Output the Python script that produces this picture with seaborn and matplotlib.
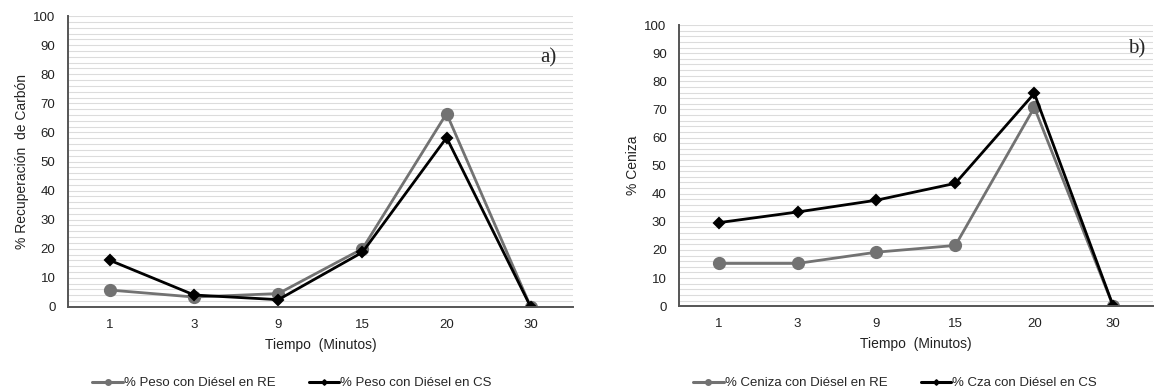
import matplotlib
matplotlib.use("Agg")
import matplotlib.pyplot as plt
import seaborn as sns
import pandas as pd
from matplotlib.lines import Line2D

# ---- data ----
tiempos = ["1", "3", "9", "15", "20", "30"]
peso_re = [5.8, 3.4, 4.6, 20.0, 66.5, 0.0]
peso_cs = [16.0, 4.1, 2.5, 18.8, 58.2, 0.0]
ceniza_re = [15.2, 15.2, 19.2, 21.6, 70.7, 0.0]
cza_cs = [29.7, 33.5, 37.7, 43.7, 75.7, 0.0]

labels_a = ["% Peso con Diésel en RE", "% Peso con Diésel en CS"]
labels_b = ["% Ceniza con Diésel en RE", "% Cza con Diésel en CS"]
ylabel_a = "% Recuperación  de Carbón"
ylabel_b = "% Ceniza"
xlabel = "Tiempo  (Minutos)"

GRAY = "#727272"
BLACK = "#000000"

sns.set_theme(style="white")
plt.rcParams["font.family"] = ["Liberation Sans", "DejaVu Sans"]

fig = plt.figure(figsize=(11.55, 3.92), dpi=100)
ax1 = fig.add_axes([0.0589, 0.217, 0.437, 0.742])
ax2 = fig.add_axes([0.588, 0.219, 0.410, 0.717])


def draw(ax, re_vals, cs_vals, labels, ylabel, tag, tagpos, legx):
    df = pd.DataFrame({
        "Tiempo": tiempos * 2,
        "valor": re_vals + cs_vals,
        "serie": [labels[0]] * len(tiempos) + [labels[1]] * len(tiempos),
    })
    sns.pointplot(data=df, x="Tiempo", y="valor", hue="serie", order=tiempos,
                  hue_order=labels, palette=[GRAY, BLACK], markers=["o", "D"],
                  linestyles=["-", "-"], errorbar=None, ax=ax,
                  linewidth=2.0, markersize=6.5, legend=False)
    for ln in ax.lines:
        if ln.get_marker() == "o":
            ln.set_markersize(8)
        elif ln.get_marker() == "D":
            ln.set_markersize(5.5)
    ax.set_ylim(0, 100)
    ax.set_yticks(range(0, 101, 10))
    ax.set_yticks(range(0, 101, 2), minor=True)
    ax.grid(True, axis="y", which="both", color="#dcdcdc", linewidth=0.8)
    ax.set_axisbelow(True)
    ax.tick_params(axis="y", which="both", length=0, labelsize=9.5,
                   colors="#222222", pad=9)
    ax.tick_params(axis="x", which="both", length=0, labelsize=9.5,
                   colors="#222222", pad=8.5)
    for s in ["top", "right"]:
        ax.spines[s].set_visible(False)
    for s in ["left", "bottom"]:
        ax.spines[s].set_color("#555555")
        ax.spines[s].set_linewidth(1.4)
    ax.set_xlabel(xlabel, fontsize=10, color="#222222", labelpad=5)
    ax.set_ylabel(ylabel, fontsize=10, color="#222222", labelpad=3)
    ax.text(tagpos[0], tagpos[1], tag, transform=ax.transAxes,
            fontsize=15, family="Liberation Serif", ha="right", va="center")
    handles = [
        Line2D([], [], color=GRAY, lw=2.2, marker="o", markersize=4),
        Line2D([], [], color=BLACK, lw=2.2, marker="D", markersize=2.8),
    ]
    fig.legend(handles, labels, loc="center", bbox_to_anchor=(legx, 0.022),
               ncol=2, frameon=False, fontsize=9.5, handlelength=2.3,
               handletextpad=0.1, columnspacing=2.5)


draw(ax1, peso_re, peso_cs, labels_a, ylabel_a, "a)", (0.968, 0.856), 0.253)
draw(ax2, ceniza_re, cza_cs, labels_b, ylabel_b, "b)", (0.985, 0.915), 0.775)

fig.savefig("out.png", dpi=100)
